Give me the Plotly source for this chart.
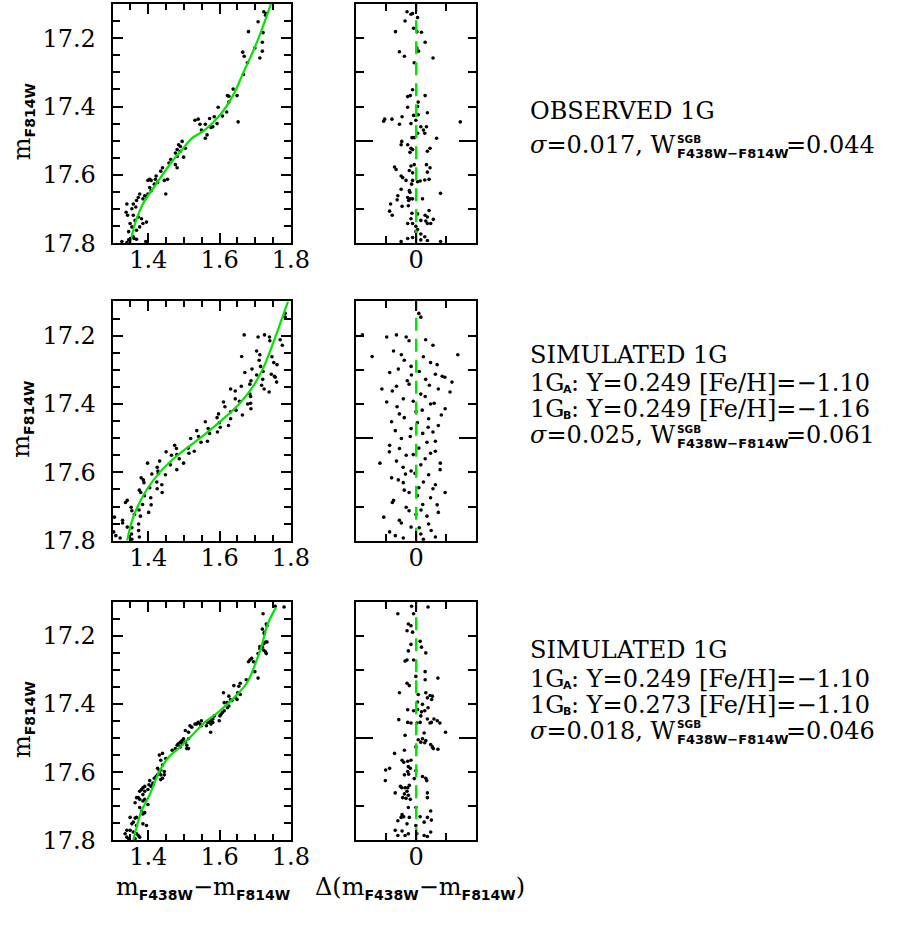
import plotly.graph_objects as go

W, H = 921, 934

# ---------------- DATA ----------------
# Row 1: observed 1G  (colour, magnitude)
obs_cmd = [(1.724,17.123),(1.731,17.128),(1.729,17.133),(1.708,17.152),(1.681,17.181),(1.722,17.184),
 (1.720,17.212),(1.699,17.229),(1.720,17.238),(1.665,17.241),(1.669,17.253),(1.713,17.258),(1.678,17.272),
 (1.667,17.306),(1.638,17.349),(1.622,17.368),(1.626,17.370),(1.649,17.368),(1.626,17.387),(1.596,17.402),
 (1.620,17.416),(1.652,17.445),(1.608,17.428),(1.531,17.440),(1.540,17.437),(1.545,17.452),(1.572,17.435),
 (1.585,17.430),(1.560,17.452),(1.593,17.450),(1.581,17.459),(1.576,17.461),(1.565,17.483),(1.560,17.493),
 (1.549,17.469),(1.485,17.512),(1.490,17.517),(1.481,17.526),(1.495,17.502),(1.490,17.531),(1.481,17.546),
 (1.476,17.536),(1.504,17.522),(1.499,17.548),(1.476,17.570),(1.458,17.565),(1.463,17.555),(1.481,17.579),
 (1.440,17.579),(1.435,17.589),(1.422,17.603),(1.420,17.613),(1.445,17.616),(1.454,17.613),(1.426,17.622),
 (1.404,17.613),(1.408,17.616),(1.399,17.616),(1.417,17.627),(1.449,17.656),(1.404,17.637),(1.408,17.646),
 (1.399,17.656),(1.395,17.664),(1.390,17.661),(1.376,17.656),(1.372,17.666),(1.385,17.670),(1.367,17.675),
 (1.358,17.685),(1.354,17.699),(1.365,17.694),(1.340,17.685),(1.338,17.709),(1.342,17.718),(1.358,17.718),
 (1.363,17.733),(1.372,17.723),(1.381,17.728),(1.385,17.742),(1.395,17.738),(1.376,17.752),(1.367,17.762),
 (1.354,17.752),(1.349,17.742),(1.345,17.766),(1.358,17.781),(1.360,17.786),(1.345,17.790),(1.367,17.788),
 (1.326,17.795),(1.340,17.798),(1.393,17.795)]
obs_fid = [(1.349,17.80),(1.363,17.742),(1.385,17.685),(1.422,17.627),(1.467,17.56),(1.495,17.526),
 (1.522,17.493),(1.558,17.469),(1.604,17.421),(1.640,17.363),(1.667,17.30),(1.704,17.214),(1.744,17.10)]
obs_res = [(-0.0154,17.123),(-0.0088,17.130),(-0.0061,17.128),(0.0022,17.140),(-0.0187,17.150),(-0.0044,17.171),
 (-0.0347,17.181),(0.0011,17.181),(0.0088,17.183),(0.0149,17.212),(-0.0281,17.240),(-0.0198,17.253),
 (0.0011,17.229),(0.0039,17.238),(0.0281,17.258),(-0.0033,17.272),(-0.0061,17.351),(-0.0099,17.368),
 (-0.0143,17.371),(0.0149,17.368),(0.0033,17.387),(0.0022,17.400),(-0.0143,17.402),(0.0187,17.418),
 (-0.0044,17.426),(0.0033,17.424),(-0.0528,17.437),(-0.0545,17.443),(-0.0407,17.437),(-0.0237,17.430),
 (0.0737,17.445),(-0.0006,17.440),(-0.0088,17.450),(-0.0281,17.452),(0.0077,17.459),(0.0171,17.459),
 (0.0121,17.469),(0.0022,17.478),(0.0143,17.478),(0.0341,17.493),(-0.0072,17.491),(-0.0033,17.491),
 (-0.0242,17.502),(-0.0253,17.512),(-0.0143,17.512),(-0.0088,17.522),(-0.0061,17.526),(0.0187,17.531),
 (0.0231,17.522),(-0.0105,17.534),(-0.0363,17.577),(-0.0336,17.584),(-0.0088,17.574),(-0.0033,17.570),
 (0.0171,17.570),(0.0231,17.579),(-0.0116,17.587),(-0.0061,17.594),(0.0187,17.592),(-0.0253,17.603),
 (-0.0226,17.608),(-0.0171,17.616),(-0.0061,17.616),(0.0022,17.620),(0.0066,17.618),(0.0143,17.615),
 (0.0215,17.613),(-0.0077,17.627),(-0.0253,17.642),(-0.0116,17.646),(-0.0105,17.651),(0.0407,17.654),
 (-0.0308,17.661),(-0.0143,17.666),(-0.0061,17.670),(-0.0319,17.673),(-0.0127,17.675),(-0.0099,17.670),
 (0.0105,17.670),(-0.0429,17.685),(-0.0237,17.692),(-0.0132,17.690),(-0.0446,17.706),(-0.0402,17.718),
 (-0.0072,17.712),(0.0022,17.714),(0.0215,17.704),(0.0149,17.718),(0.0187,17.723),(-0.0088,17.728),
 (0.0077,17.733),(0.0160,17.735),(0.0286,17.730),(-0.0143,17.742),(-0.0061,17.742),(-0.0006,17.750),
 (0.0187,17.742),(0.0242,17.742),(0.0022,17.760),(0.0077,17.773),(-0.0006,17.766),(-0.0143,17.786),
 (0.0143,17.781),(0.0187,17.792),(-0.0253,17.795),(0.0407,17.795),(0.0077,17.790),(-0.0061,17.783)]

# Row 2: simulated 1G (two metallicities)
simA_cmd = [(1.784,17.135),(1.784,17.146),(1.726,17.198),(1.740,17.204),(1.770,17.212),(1.708,17.204),
 (1.713,17.256),(1.752,17.279),(1.715,17.290),(1.671,17.308),(1.745,17.313),(1.754,17.319),(1.721,17.328),
 (1.685,17.342),(1.661,17.348),(1.725,17.356),(1.739,17.365),(1.685,17.371),(1.644,17.385),(1.611,17.394),
 (1.679,17.400),(1.688,17.414),(1.631,17.423),(1.597,17.429),(1.631,17.443),(1.560,17.452),(1.625,17.463),
 (1.568,17.472),(1.572,17.486),(1.519,17.501),(1.566,17.509),(1.474,17.521),(1.512,17.529),(1.514,17.544),
 (1.465,17.550),(1.432,17.567),(1.499,17.573),(1.462,17.578),(1.427,17.596),(1.448,17.607),(1.380,17.616),
 (1.388,17.630),(1.438,17.636),(1.404,17.645),(1.379,17.659),(1.407,17.674),(1.341,17.682),(1.384,17.694),
 (1.352,17.702),(1.401,17.717),(1.361,17.723),(1.328,17.740),(1.373,17.751),(1.341,17.760),(1.303,17.774),
 (1.353,17.780),(1.375,17.789),(1.321,17.792),(1.669,17.198),(1.662,17.261),(1.808,17.256),(1.760,17.336),
 (1.631,17.356),(1.398,17.573),(1.439,17.659),(1.305,17.731),(1.741,17.215),(1.776,17.228),(1.704,17.245),
 (1.747,17.262),(1.711,17.272),(1.761,17.285),(1.691,17.298),(1.722,17.305),(1.756,17.322),(1.688,17.332),
 (1.718,17.345),(1.644,17.362),(1.687,17.378),(1.656,17.392),(1.687,17.398),(1.615,17.408),(1.646,17.418),
 (1.664,17.432),(1.593,17.440),(1.599,17.455),(1.536,17.478),(1.594,17.482),(1.541,17.495),(1.548,17.512),
 (1.479,17.530),(1.529,17.538),(1.480,17.548),(1.487,17.560),(1.425,17.585),(1.480,17.592),(1.428,17.603),
 (1.386,17.622),(1.424,17.628),(1.425,17.648),(1.375,17.652),(1.389,17.668),(1.336,17.688),(1.408,17.695),
 (1.354,17.712),(1.378,17.728),(1.328,17.748),(1.354,17.762),(1.373,17.770),(1.309,17.785),(1.354,17.796),
 (1.704,17.315),(1.602,17.468),(1.450,17.540),(1.374,17.710),(1.410,17.605)]
simA_fid = [(1.792,17.10),(1.775,17.15),(1.758,17.20),(1.740,17.25),(1.720,17.30),(1.693,17.35),(1.655,17.40),
 (1.603,17.45),(1.545,17.50),(1.482,17.55),(1.432,17.60),(1.396,17.65),(1.370,17.70),(1.352,17.75),(1.341,17.80)]
simA_res = [(0.0044,17.135),(0.0077,17.146),(-0.0331,17.198),(-0.0168,17.204),(0.0158,17.212),(-0.0494,17.204),
 (-0.0249,17.256),(0.0240,17.279),(-0.0086,17.290),(-0.0445,17.308),(0.0321,17.313),(0.0435,17.319),
 (0.0158,17.328),(-0.0119,17.342),(-0.0331,17.348),(0.0370,17.356),(0.0566,17.365),(0.0077,17.371),
 (-0.0217,17.385),(-0.0494,17.394),(0.0240,17.400),(0.0484,17.414),(-0.0005,17.423),(-0.0282,17.429),
 (0.0207,17.443),(-0.0412,17.452),(0.0370,17.463),(-0.0086,17.472),(0.0109,17.486),(-0.0249,17.501),
 (0.0321,17.509),(-0.0445,17.521),(0.0044,17.529),(0.0240,17.544),(-0.0168,17.550),(-0.0331,17.567),
 (0.0403,17.573),(0.0077,17.578),(-0.0086,17.596),(0.0207,17.607),(-0.0412,17.616),(-0.0217,17.630),
 (0.0321,17.636),(0.0044,17.645),(-0.0119,17.659),(0.0240,17.674),(-0.0380,17.682),(0.0109,17.694),
 (-0.0168,17.702),(0.0370,17.717),(-0.0005,17.723),(-0.0282,17.740),(0.0207,17.751),(-0.0086,17.760),
 (-0.0445,17.774),(0.0077,17.780),(0.0321,17.789),(-0.0217,17.792),(-0.0901,17.198),(-0.0738,17.261),
 (0.0696,17.256),(0.0598,17.336),(-0.0575,17.356),(-0.0608,17.573),(0.0484,17.659),(-0.0543,17.731),
 (-0.012,17.215),(0.028,17.228),(-0.038,17.245),(0.012,17.262),(-0.020,17.272),(0.035,17.285),
 (-0.030,17.298),(0.005,17.305),(0.048,17.322),(-0.015,17.332),(0.022,17.345),(-0.040,17.362),
 (0.015,17.378),(-0.005,17.392),(0.030,17.398),(-0.032,17.408),(0.010,17.418),(0.042,17.432),
 (-0.020,17.440),(0.002,17.455),(-0.035,17.478),(0.028,17.482),(-0.010,17.495),(0.018,17.512),
 (-0.028,17.530),(0.032,17.538),(-0.005,17.548),(0.015,17.560),(-0.022,17.585),(0.040,17.592),
 (-0.002,17.603),(-0.030,17.622),(0.012,17.628),(0.028,17.648),(-0.020,17.652),(0.002,17.668),
 (-0.040,17.688),(0.035,17.695),(-0.012,17.712),(0.018,17.728),(-0.025,17.748),(0.005,17.762),
 (0.025,17.770),(-0.035,17.785),(0.012,17.796),(-0.008,17.315),(0.020,17.468),(-0.045,17.540),
 (0.008,17.710),(-0.018,17.605)]

# Row 3: simulated 1G (two helium abundances)
simB_cmd = [(1.756,17.113),(1.781,17.115),(1.722,17.135),(1.731,17.165),(1.733,17.170),(1.720,17.180),
 (1.726,17.189),(1.725,17.194),(1.729,17.218),(1.724,17.223),(1.733,17.218),(1.720,17.233),(1.713,17.238),
 (1.724,17.242),(1.729,17.247),(1.731,17.252),(1.708,17.252),(1.713,17.231),(1.685,17.271),(1.690,17.266),
 (1.681,17.276),(1.695,17.276),(1.699,17.305),(1.708,17.324),(1.675,17.329),(1.658,17.339),(1.654,17.348),
 (1.640,17.346),(1.658,17.372),(1.651,17.367),(1.645,17.382),(1.649,17.387),(1.626,17.377),(1.631,17.387),
 (1.635,17.390),(1.622,17.396),(1.626,17.406),(1.613,17.396),(1.611,17.367),(1.622,17.411),(1.613,17.420),
 (1.608,17.425),(1.604,17.430),(1.601,17.435),(1.599,17.449),(1.585,17.435),(1.581,17.444),(1.576,17.449),
 (1.572,17.454),(1.581,17.454),(1.567,17.454),(1.563,17.464),(1.576,17.459),(1.549,17.449),(1.545,17.459),
 (1.540,17.454),(1.549,17.464),(1.535,17.459),(1.531,17.459),(1.522,17.468),(1.517,17.464),(1.575,17.483),
 (1.513,17.483),(1.504,17.478),(1.490,17.526),(1.476,17.531),(1.481,17.521),(1.499,17.502),(1.504,17.512),
 (1.508,17.521),(1.513,17.531),(1.495,17.507),(1.495,17.517),(1.513,17.502),(1.508,17.531),(1.490,17.512),
 (1.484,17.517),(1.467,17.536),(1.449,17.560),(1.440,17.545),(1.431,17.550),(1.435,17.565),(1.440,17.579),
 (1.445,17.598),(1.435,17.594),(1.431,17.596),(1.426,17.589),(1.431,17.603),(1.435,17.608),(1.445,17.608),
 (1.440,17.618),(1.426,17.608),(1.435,17.622),(1.422,17.613),(1.417,17.618),(1.413,17.637),(1.404,17.625),
 (1.408,17.642),(1.413,17.632),(1.402,17.637),(1.390,17.642),(1.385,17.646),(1.381,17.651),(1.399,17.651),
 (1.390,17.656),(1.376,17.656),(1.385,17.666),(1.372,17.675),(1.376,17.680),(1.367,17.675),(1.390,17.680),
 (1.385,17.685),(1.363,17.690),(1.399,17.695),(1.376,17.704),(1.381,17.714),(1.390,17.719),(1.385,17.723),
 (1.367,17.733),(1.363,17.735),(1.349,17.733),(1.358,17.747),(1.354,17.752),(1.367,17.757),(1.385,17.752),
 (1.395,17.757),(1.349,17.771),(1.340,17.771),(1.335,17.781),(1.340,17.791),(1.358,17.776),(1.367,17.781),
 (1.372,17.786),(1.376,17.791),(1.345,17.796),(1.363,17.796)]
simB_fid = [(1.358,17.80),(1.367,17.762),(1.381,17.714),(1.404,17.666),(1.431,17.598),(1.458,17.555),
 (1.495,17.521),(1.531,17.483),(1.558,17.454),(1.595,17.425),(1.640,17.382),(1.676,17.339),(1.704,17.271),
 (1.717,17.233),(1.735,17.165),(1.758,17.117)]
simB_res = [(-0.0077,17.113),(0.0198,17.115),(-0.0308,17.135),(-0.0044,17.135),(-0.0132,17.165),(-0.0088,17.170),
 (-0.0154,17.185),(-0.0061,17.189),(0.0066,17.216),(-0.0088,17.225),(0.0088,17.233),(-0.0132,17.244),
 (0.0160,17.250),(-0.0154,17.271),(-0.0044,17.271),(-0.0187,17.274),(0.0149,17.305),(-0.0006,17.319),
 (0.0149,17.329),(0.0363,17.324),(-0.0154,17.339),(-0.0116,17.346),(-0.0281,17.367),(0.0033,17.372),
 (0.0160,17.367),(0.0231,17.375),(0.0270,17.377),(0.0187,17.382),(0.0259,17.387),(0.0022,17.394),
 (0.0105,17.401),(0.0198,17.411),(-0.0143,17.417),(0.0022,17.416),(-0.0044,17.420),(0.0088,17.423),
 (0.0143,17.420),(0.0077,17.435),(0.0187,17.444),(0.0297,17.444),(0.0352,17.449),(0.0396,17.456),
 (-0.0292,17.446),(-0.0143,17.454),(-0.0088,17.456),(0.0011,17.456),(0.0066,17.454),(0.0231,17.456),
 (0.0253,17.454),(0.0490,17.483),(0.0132,17.485),(-0.0187,17.492),(0.0033,17.505),(0.0105,17.502),
 (0.0160,17.507),(0.0077,17.512),(0.0143,17.514),(0.0242,17.519),(0.0270,17.526),(0.0363,17.533),
 (0.0286,17.531),(-0.0363,17.545),(-0.0198,17.536),(-0.0006,17.526),(-0.0237,17.565),(-0.0209,17.571),
 (-0.0143,17.568),(-0.0088,17.565),(-0.0132,17.584),(-0.0099,17.589),(-0.0143,17.598),(-0.0006,17.596),
 (-0.0512,17.594),(-0.0446,17.589),(-0.0517,17.625),(-0.0198,17.608),(-0.0127,17.606),(0.0105,17.613),
 (0.0160,17.618),(0.0176,17.625),(-0.0033,17.619),(-0.0116,17.639),(-0.0264,17.642),(-0.0242,17.646),
 (-0.0187,17.646),(-0.0143,17.646),(-0.0154,17.656),(-0.0352,17.661),(-0.0198,17.664),(-0.0132,17.668),
 (-0.0171,17.677),(-0.0226,17.675),(-0.0099,17.680),(0.0187,17.661),(0.0187,17.675),(-0.0132,17.704),
 (-0.0006,17.704),(0.0242,17.714),(-0.0237,17.725),(-0.0209,17.731),(-0.0253,17.733),(-0.0116,17.733),
 (0.0066,17.731),(0.0187,17.733),(0.0253,17.741),(-0.0308,17.743),(0.0132,17.747),(-0.0154,17.752),
 (-0.0006,17.757),(-0.0352,17.771),(-0.0237,17.773),(-0.0132,17.781),(0.0132,17.786),(0.0187,17.789),
 (-0.0308,17.786),(-0.0187,17.786),(0.0011,17.781),(0.0242,17.776)]

# axis ranges / ticks
color_range = [1.3, 1.8]
color_ticks = [1.4, 1.6, 1.8]
mag_range = [17.8, 17.1]
mag_ticks = [17.2, 17.4, 17.6, 17.8]
delta_range = [-0.1, 0.1]
delta_ticks = [0]

# text blocks
titles = ["OBSERVED 1G", "SIMULATED 1G", "SIMULATED 1G"]
compA = [None, ("0.249", "1.10"), ("0.249", "1.10")]
compB = [None, ("0.249", "1.16"), ("0.273", "1.10")]
sigmas = ["0.017", "0.025", "0.018"]
widths = ["0.044", "0.061", "0.046"]

# ---------------- FIGURE ----------------
def fx(x): return x / W
def fy(y): return 1 - y / H

GREEN = "#00e600"
FONT = "DejaVu Serif"
SUBSTYLE = "font-family:DejaVu Sans;font-weight:bold;font-size:%dpx"

def sub(t, s=14):
    return '<sub><span style="%s">%s</span></sub>' % (SUBSTYLE % s, t)

row_top = [4, 306, 611]
row_bot = [247, 549, 853]
LX = (115, 297)
RX = (364, 486)

cmds = [obs_cmd, simA_cmd, simB_cmd]
fids = [obs_fid, simA_fid, simB_fid]
ress = [obs_res, simA_res, simB_res]

fig = go.Figure()
layout = {}
base = dict(showline=True, linecolor="black", linewidth=2, mirror="ticks", ticks="inside",
            tickcolor="black", tickwidth=1.5, showgrid=False, zeroline=False,
            tickfont=dict(family=FONT, size=24, color="black"))

for i in range(3):
    xl, yl = 2 * i + 1, 2 * i + 1
    xr, yr = 2 * i + 2, 2 * i + 2
    ydom = [fy(row_bot[i]), fy(row_top[i])]
    layout["xaxis%d" % xl] = dict(base, domain=[fx(LX[0]), fx(LX[1])], range=color_range, anchor="y%d" % yl,
        tickmode="array", tickvals=color_ticks, ticktext=["%.1f" % v for v in color_ticks], ticklen=10,
        ticklabelstandoff=-6,
        minor=dict(tickmode="linear", tick0=1.3, dtick=0.05, ticks="inside", ticklen=6, tickcolor="black", tickwidth=1.5))
    layout["yaxis%d" % yl] = dict(base, domain=ydom, range=mag_range, anchor="x%d" % xl,
        tickmode="array", tickvals=mag_ticks, ticktext=["%.1f" % v for v in mag_ticks], ticklen=10,
        ticklabelstandoff=10,
        minor=dict(tickmode="linear", tick0=17.1, dtick=0.05, ticks="inside", ticklen=7, tickcolor="black", tickwidth=1.5))
    layout["xaxis%d" % xr] = dict(base, domain=[fx(RX[0]), fx(RX[1])], range=delta_range, anchor="y%d" % yr,
        tickmode="array", tickvals=delta_ticks, ticktext=["0"], ticklen=10, ticklabelstandoff=-6,
        minor=dict(tickmode="linear", tick0=-0.1, dtick=0.05, ticks="inside", ticklen=7, tickcolor="black", tickwidth=1.5))
    layout["yaxis%d" % yr] = dict(base, domain=ydom, range=mag_range, anchor="x%d" % xr,
        tickmode="array", tickvals=[17.5], showticklabels=False, ticklen=17,
        minor=dict(tickmode="linear", tick0=17.1, dtick=0.1, ticks="inside", ticklen=8, tickcolor="black", tickwidth=1.5))

    c = cmds[i]
    fig.add_trace(go.Scatter(x=[p[0] for p in c], y=[p[1] for p in c], mode="markers",
        marker=dict(size=3.6, color="black"), xaxis="x%d" % xl, yaxis="y%d" % yl))
    f = fids[i]
    fig.add_trace(go.Scatter(x=[p[0] for p in f], y=[p[1] for p in f], mode="lines", line_shape="spline",
        line=dict(color=GREEN, width=2.2), xaxis="x%d" % xl, yaxis="y%d" % yl))
    r = ress[i]
    fig.add_trace(go.Scatter(x=[p[0] for p in r], y=[p[1] for p in r], mode="markers",
        marker=dict(size=3.6, color="black"), xaxis="x%d" % xr, yaxis="y%d" % yr))
    fig.add_trace(go.Scatter(x=[0, 0], y=mag_range, mode="lines",
        line=dict(color=GREEN, width=2.5, dash="13px,8px"), xaxis="x%d" % xr, yaxis="y%d" % yr))

ann = []
def A(text, x, y, size=24, xanchor="left", yanchor="middle", angle=0, family=FONT):
    ann.append(dict(text=text, x=fx(x), y=fy(y), xref="paper", yref="paper", showarrow=False,
                    xanchor=xanchor, yanchor=yanchor, textangle=angle, borderpad=0,
                    font=dict(family=family, size=size, color="black")))

for i in range(3):
    A("m" + sub("F814W"), 23, 123.5 + [0, 302, 607][i], xanchor="center", angle=-90)
A("m" + sub("F438W") + "−m" + sub("F814W"), 207, 902, xanchor="center")
A("Δ(m" + sub("F438W") + "−m" + sub("F814W") + ")", 429, 902, xanchor="center")

line_y = [[113, None, None, 147.5], [360, 389, 415.5, 442], [660, 689, 716, 742]]
for i in range(3):
    ly = line_y[i]
    A(titles[i], 540, ly[0])
    if compA[i]:
        for yy, lab, comp in ((ly[1], "A", compA[i]), (ly[2], "B", compB[i])):
            A("1G", 540, yy)
            A("<b>%s</b>" % lab, 574, yy + 6.5, size=11, family="DejaVu Sans")
            A(": Y=%s [Fe/H]=−%s" % comp, 582, yy)
    A("<i>σ</i>=%s, W" % sigmas[i], 540, ly[3])
    A("<b>SGB</b>", 690, ly[3] - 6.5, size=10.5, family="DejaVu Sans")
    A("<b>F438W−F814W</b>", 690, ly[3] + 8.5, size=13, family="DejaVu Sans")
    A("=%s" % widths[i], 802, ly[3])

layout["annotations"] = ann
fig.update_layout(width=W, height=H, margin=dict(l=0, r=0, t=0, b=0), showlegend=False,
                  paper_bgcolor="white", plot_bgcolor="white", font=dict(family=FONT, size=24, color="black"),
                  **layout)
fig.write_html("out.html")
